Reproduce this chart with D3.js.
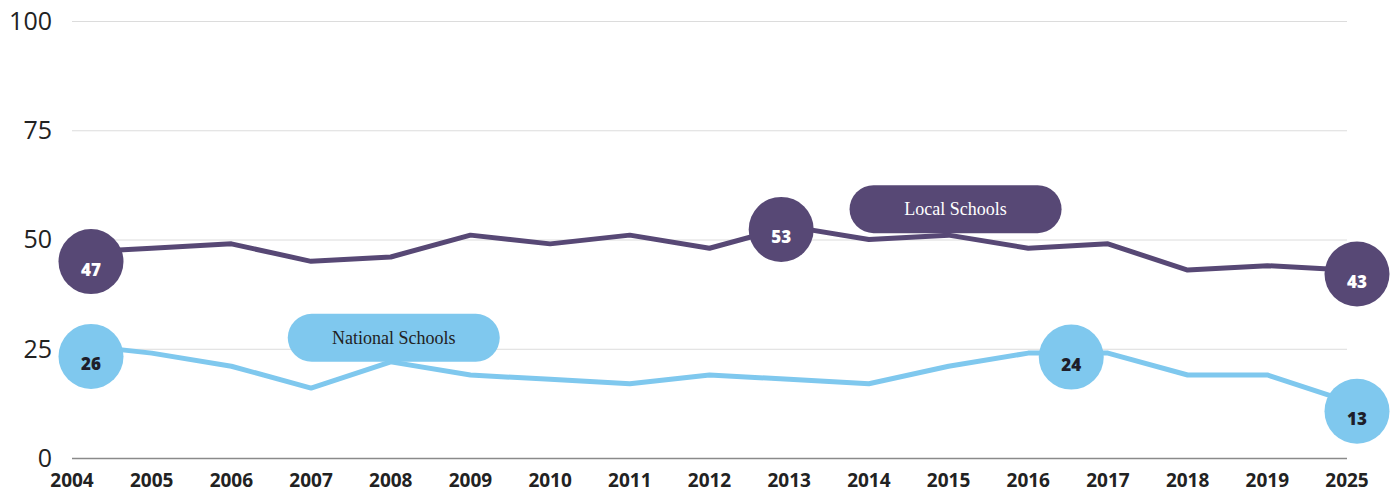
<!DOCTYPE html>
<html>
<head>
<meta charset="utf-8">
<script src="https://cdn.jsdelivr.net/npm/d3@7"></script>
<style>
  body { margin: 0; background: #fff; }
  svg { display: block; }
  .y-label { font-family: 'Open Sans', sans-serif; font-size: 25px; fill: #222; }
  .x-label { font-family: 'Open Sans', sans-serif; font-size: 19px; font-weight: 700; fill: #222; }
  .bubble-text { font-family: 'Open Sans', sans-serif; font-size: 17px; font-weight: 800; }
  .pill-text { font-family: 'Liberation Serif', 'DejaVu Serif', serif; font-size: 18px; }
</style>
</head>
<body>
<svg></svg>
<script>
const width = 1395;
const height = 492;
const margin = {top: 21, right: 48, bottom: 34, left: 72};

const years = ['2004', '2005', '2006', '2007', '2008', '2009', '2010', '2011', '2012',
  '2013', '2014', '2015', '2016', '2017', '2018', '2019', '2025'];
const localValues = [47, 48, 49, 45, 46, 51, 49, 51, 48, 53, 50, 51, 48, 49, 43, 44, 43];
const nationalValues = [26, 24, 21, 16, 22, 19, 18, 17, 19, 18, 17, 21, 24, 24, 19, 19, 13];
const yTicks = [0, 25, 50, 75, 100];

// highlighted values (bubbles) and series names (pills)
const localBubbles = ['2004', '2013', '2025'];
const nationalBubbles = ['2004', '2016', '2025'];
const seriesNames = ['Local Schools', 'National Schools'];
const labelYears = ['2015', '2008'];

const colors = {local: '#574875', national: '#7fc8ee'};

const svg = d3.select('svg')
  .attr('width', width)
  .attr('height', height);

const xScale = d3.scalePoint()
  .domain(years)
  .range([margin.left, width - margin.right]);

const yScale = d3.scaleLinear()
  .domain([0, 100])
  .range([height - margin.bottom, margin.top]);

// grid
svg.append('g')
  .selectAll('line')
  .data(yTicks)
  .join('line')
    .attr('x1', margin.left)
    .attr('x2', width - margin.right)
    .attr('y1', d => yScale(d) + 0.5)
    .attr('y2', d => yScale(d) + 0.5)
    .attr('stroke', d => d === 0 ? '#8a8a8a' : '#dcdcdc')
    .attr('stroke-width', d => d === 0 ? 1.5 : 1);

svg.append('g')
  .selectAll('text')
  .data(yTicks)
  .join('text')
    .attr('class', 'y-label')
    .attr('x', 52)
    .attr('y', d => yScale(d))
    .attr('dy', '0.35em')
    .attr('text-anchor', 'end')
    .text(d => d);

svg.append('g')
  .selectAll('text')
  .data(years)
  .join('text')
    .attr('class', 'x-label')
    .attr('x', d => xScale(d))
    .attr('y', 487)
    .attr('text-anchor', 'middle')
    .text(d => d);

const lineGenerator = values => d3.line()
  .x((d, i) => xScale(years[i]))
  .y(d => yScale(d))(values);

svg.append('path')
  .attr('d', lineGenerator(nationalValues))
  .attr('fill', 'none')
  .attr('stroke', colors.national)
  .attr('stroke-width', 5)
  .attr('stroke-linejoin', 'round');

svg.append('path')
  .attr('d', lineGenerator(localValues))
  .attr('fill', 'none')
  .attr('stroke', colors.local)
  .attr('stroke-width', 5)
  .attr('stroke-linejoin', 'round');

// bubbles sit a little off their points, like the original
const bubbleOffsets = {
  local: [[19, 9], [-8, 3], [10, 4]],
  national: [[19, 12], [43, 4], [10, 10]]
};

const drawBubbles = (key, yearsList, values, textColor) => {
  const g = svg.append('g');
  yearsList.forEach((yr, k) => {
    const v = values[years.indexOf(yr)];
    const [dx, dy] = bubbleOffsets[key][k];
    const cx = xScale(yr) + dx;
    const cy = yScale(v) + dy;
    g.append('circle')
      .attr('cx', cx)
      .attr('cy', cy)
      .attr('r', 32.5)
      .attr('fill', colors[key]);
    g.append('text')
      .attr('class', 'bubble-text')
      .attr('x', cx)
      .attr('y', cy + 14)
      .attr('text-anchor', 'middle')
      .attr('fill', textColor)
      .text(v);
  });
};

drawBubbles('local', localBubbles, localValues, '#fff');
drawBubbles('national', nationalBubbles, nationalValues, '#1e1e2a');

// series name pills
const pillW = 212;
const pillH = 48;
const pillInfo = [
  {key: 'local', values: localValues, dx: 7, dy: -2, textColor: '#fff'},
  {key: 'national', values: nationalValues, dx: 3, dy: 0, textColor: '#222'}
];

pillInfo.forEach((p, i) => {
  const yr = labelYears[i];
  const cx = xScale(yr) + p.dx;
  const bottom = yScale(p.values[years.indexOf(yr)]) + p.dy;
  svg.append('rect')
    .attr('x', cx - pillW / 2)
    .attr('y', bottom - pillH)
    .attr('width', pillW)
    .attr('height', pillH)
    .attr('rx', 24)
    .attr('fill', colors[p.key]);
  svg.append('text')
    .attr('class', 'pill-text')
    .attr('x', cx)
    .attr('y', bottom - pillH / 2)
    .attr('dy', '0.35em')
    .attr('text-anchor', 'middle')
    .attr('fill', p.textColor)
    .text(seriesNames[i]);
});
</script>
</body>
</html>
